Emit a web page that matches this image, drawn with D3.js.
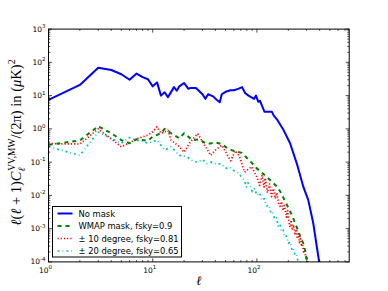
<!DOCTYPE html>
<html>
<head>
<meta charset="utf-8">
<script src="https://cdn.jsdelivr.net/npm/d3@7"></script>
<style>
body{margin:0;background:#fff;}
svg{display:block;}
</style>
</head>
<body>
<svg id="svg_canvas" width="388" height="291"></svg>
<script>

// multipole l and l(l+1)C_l/2pi, one pair of arrays per curve
var noMaskL = [1,2,3,4,5,6,7,8,9,10,11,12,13,14,16,17,18,20,22,23,26,30,32,34,38,41,44,46,50,56,60,66,72,77,83,94,98,103,107,118,139,145,157,180,208,241,279,311,348,375,400];
var noMaskV = [7.4,21,69,59,44,30,46,36,31,19,25,10,12.6,9,18,14,19,24,16,17,17,11,8,11,9.5,7.5,6.3,11,13,14.5,14.5,16,18,12,10,8,10,6.5,7,3.3,3.3,2.5,1.85,0.92,0.37,0.092,0.018,0.0072,0.0014,0.00029,0.00008];

var wmapL = [1,2,3,4,5,6,7,9,10,12,13,15,18,20,24,28,33,40,46,53,62,72,79,88,99,110,124,140,157,170,180,195,216,232,250,265,279,292,305];
var wmapV = [0.33,0.45,1.2,0.74,0.46,0.37,0.49,0.44,0.58,0.74,1.0,0.74,0.52,0.74,0.46,0.48,0.35,0.39,0.35,0.25,0.21,0.19,0.14,0.1,0.066,0.05,0.036,0.025,0.018,0.012,0.0083,0.005,0.0026,0.0015,0.00082,0.0005,0.00036,0.0002,0.00009];

var deg10L = [1,2,3,5,6,7,9,10,11,12,14,15,18,20,23,27,31,36,41,46,56,62,68,76,89,100,106,112,117,120,126,132,138,144,150,155,161,167,172,178,183,187,192,197,203,208,213,218,224,232,238,244,250,256,262,268,274,280,288,296,303,312];
var deg10V = [0.36,0.35,1.0,0.29,0.38,0.5,0.65,0.82,1.15,0.74,0.9,0.46,0.29,0.2,0.41,0.72,0.35,0.16,0.25,0.32,0.11,0.22,0.15,0.05,0.073,0.035,0.02,0.04,0.018,0.033,0.012,0.022,0.0092,0.016,0.008,0.012,0.006,0.0047,0.0065,0.0035,0.005,0.0037,0.0022,0.0035,0.0016,0.0011,0.0018,0.0009,0.0013,0.0007,0.00095,0.0005,0.0007,0.00038,0.0005,0.00029,0.00035,0.0002,0.00022,0.00012,0.00013,0.00007];

var deg20L = [1,2,3,5,6,7,9,11,13,15,18,21,24,27,30,33,37,41,45,51,55,59,64,68,72,76,79,82,86,90,95,100,106,112,118,124,130,136,142,148,154,160,166,172,178,185,192,200,208,216,224,232,240,248,258,268];
var deg20V = [0.29,0.16,0.8,0.37,0.55,0.46,0.37,0.46,0.23,0.29,0.16,0.15,0.11,0.1,0.12,0.09,0.1,0.085,0.09,0.065,0.07,0.057,0.05,0.045,0.033,0.028,0.018,0.024,0.02,0.013,0.016,0.01,0.012,0.007,0.008,0.0048,0.0052,0.003,0.0032,0.0019,0.0021,0.0012,0.0014,0.00085,0.00095,0.00055,0.0006,0.00036,0.0004,0.00024,0.00027,0.00016,0.00017,0.0001,0.00009,0.00005];

var legendLabels = ["No mask","WMAP mask, fsky=0.9","\u00b1 10 degree, fsky=0.81","\u00b1 20 degree, fsky=0.65"];
var xTickVals = [1,10,100];
var xTickExp = ["0","1","2"];
var yTickVals = [1e-4,1e-3,1e-2,1e-1,1,10,100,1000];
var yTickExp = ["-4","-3","-2","-1","0","1","2","3"];

var left_x=48.5, right_x=349.2, top_y=29.1, bottom_y=261.9;

var x=d3.scaleLog().domain([1,768]).range([left_x,right_x]);
var y=d3.scaleLog().domain([1e-4,1e3]).range([bottom_y,top_y]);

var svg=d3.select("#svg_canvas");

svg.append("defs").append("clipPath").attr("id","plotclip")
	.append("rect").attr("x",left_x).attr("y",top_y).attr("width",right_x-left_x).attr("height",bottom_y-top_y);

var series=[
	{l:noMaskL, v:noMaskV, color:"#0000ff", dash:null, width:2},
	{l:wmapL, v:wmapV, color:"#008000", dash:"4,4", width:2},
	{l:deg10L, v:deg10V, color:"#ff0000", dash:"1.2,2", width:1.7},
	{l:deg20L, v:deg20V, color:"#00bfbf", dash:"2,3,0.8,3", width:1.7}
];

var line=d3.line().x(function(d){return x(d[0]);}).y(function(d){return y(d[1]);});

var g=svg.append("g").attr("clip-path","url(#plotclip)");
// draw back to front so blue ends on top
series.slice().reverse().forEach(function(s){
	var pts=s.l.map(function(l,i){return [l,s.v[i]];});
	g.append("path").datum(pts)
		.attr("d",line)
		.attr("fill","none")
		.attr("stroke",s.color)
		.attr("stroke-width",s.width)
		.attr("stroke-dasharray",s.dash)
		.attr("stroke-linejoin","round");
});

// ticks, inward on all four sides
var ticks=svg.append("g").attr("stroke","#000").attr("stroke-width",0.7);
var xminor=[], yminor=[];
[1,10,100].forEach(function(b){ for(var k=2;k<10;k++){ if(b*k<=768) xminor.push(b*k); } });
[1e-4,1e-3,1e-2,1e-1,1,10,100].forEach(function(b){ for(var k=2;k<10;k++){ yminor.push(b*k); } });

xTickVals.forEach(function(v){
	ticks.append("line").attr("x1",x(v)).attr("x2",x(v)).attr("y1",bottom_y).attr("y2",bottom_y-3.5);
	ticks.append("line").attr("x1",x(v)).attr("x2",x(v)).attr("y1",top_y).attr("y2",top_y+3.5);
});
xminor.forEach(function(v){
	ticks.append("line").attr("x1",x(v)).attr("x2",x(v)).attr("y1",bottom_y).attr("y2",bottom_y-1.8);
	ticks.append("line").attr("x1",x(v)).attr("x2",x(v)).attr("y1",top_y).attr("y2",top_y+1.8);
});
yTickVals.forEach(function(v){
	ticks.append("line").attr("y1",y(v)).attr("y2",y(v)).attr("x1",left_x).attr("x2",left_x+3.5);
	ticks.append("line").attr("y1",y(v)).attr("y2",y(v)).attr("x1",right_x).attr("x2",right_x-3.5);
});
yminor.forEach(function(v){
	ticks.append("line").attr("y1",y(v)).attr("y2",y(v)).attr("x1",left_x).attr("x2",left_x+1.8);
	ticks.append("line").attr("y1",y(v)).attr("y2",y(v)).attr("x1",right_x).attr("x2",right_x-1.8);
});

svg.append("rect").attr("x",left_x).attr("y",top_y).attr("width",right_x-left_x).attr("height",bottom_y-top_y)
	.attr("fill","none").attr("stroke","#000").attr("stroke-width",1);

// tick labels 10^n
var tickFont="'DejaVu Sans', sans-serif";
xTickVals.forEach(function(v,i){
	var t=svg.append("text").attr("x",x(v)-3).attr("y",bottom_y+11).attr("text-anchor","middle")
		.attr("font-family",tickFont).attr("font-size",7.5).attr("fill","#000");
	t.append("tspan").text("10");
	t.append("tspan").attr("dy",-3.5).attr("font-size",5.5).text(xTickExp[i]);
});
yTickVals.forEach(function(v,i){
	var t=svg.append("text").attr("x",left_x-3).attr("y",y(v)+2.5).attr("text-anchor","end")
		.attr("font-family",tickFont).attr("font-size",7.5).attr("fill","#000");
	t.append("tspan").text("10");
	t.append("tspan").attr("dy",-3.5).attr("font-size",5.5).text(yTickExp[i]);
});

// axis labels
var mathFont="'Liberation Serif', 'DejaVu Serif', serif";
svg.append("text").attr("x",(left_x+right_x)/2).attr("y",285).attr("text-anchor","middle")
	.attr("font-family",mathFont).attr("font-style","italic").attr("font-size",13).text("\u2113");

var yl=svg.append("text").attr("transform","translate(21,"+((top_y+bottom_y)/2-3)+") rotate(-90)")
	.attr("text-anchor","middle").attr("font-family",mathFont).attr("font-size",14.5).attr("fill","#000");
yl.append("tspan").attr("font-style","italic").text("\u2113");
yl.append("tspan").text("(");
yl.append("tspan").attr("font-style","italic").text("\u2113");
yl.append("tspan").text(" + 1)");
yl.append("tspan").attr("font-style","italic").text("C");
yl.append("tspan").attr("font-style","italic").attr("font-size",10).attr("dy",3.5).text("\u2113");
yl.append("tspan").attr("font-size",9.5).attr("dy",-9.5).attr("dx",-3.5).text("VV,MW");
yl.append("tspan").attr("dy",6).text("/(2\u03c0)  in  (");
yl.append("tspan").attr("font-style","italic").text("\u03bc");
yl.append("tspan").text("K)");
yl.append("tspan").attr("font-size",10).attr("dy",-6).text("2");

// legend
var lg_x=52.5, lg_y=206.5, lg_w=129, lg_h=50.5, row_h=12.5;
var legend=svg.append("g");
legend.append("rect").attr("x",lg_x).attr("y",lg_y).attr("width",lg_w).attr("height",lg_h)
	.attr("fill","#fff").attr("stroke","#000").attr("stroke-width",1);
series.forEach(function(s,i){
	var cy=lg_y+7+i*row_h;
	legend.append("line").attr("x1",lg_x+5).attr("x2",lg_x+20).attr("y1",cy).attr("y2",cy)
		.attr("stroke",s.color).attr("stroke-width",s.width).attr("stroke-dasharray",s.dash);
	legend.append("text").attr("x",lg_x+26).attr("y",cy+3).attr("font-family",tickFont)
		.attr("font-size",8.4).attr("fill","#000").text(legendLabels[i]);
});

</script>
</body>
</html>
